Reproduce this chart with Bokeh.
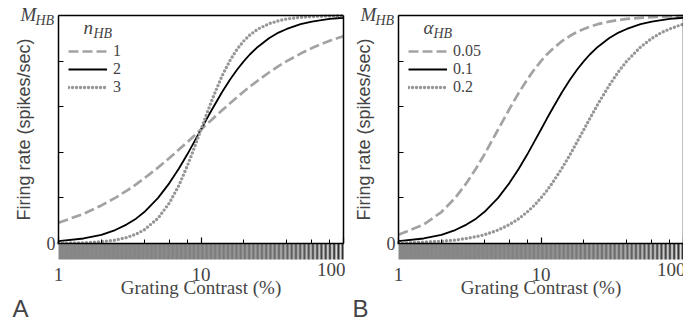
import numpy as np
from bokeh.plotting import figure
from bokeh.layouts import row
from bokeh.models import (Range1d, LinearAxis, LogAxis, FixedTicker, LogTicker,
                          Label, Legend, LegendItem)
from bokeh.embed import file_html
from bokeh.resources import INLINE

# Grating contrast (%) at which the responses are sampled
contrast = [1, 1.5, 2, 2.5, 3, 3.5, 4, 5, 6, 7, 8, 9, 10, 11, 12, 14, 16, 18,
            20, 22, 25, 30, 35, 40, 50, 60, 70, 80, 90, 100]

# Panel A: normalised firing rate for three exponents n_HB
resp_n1 = [0.091, 0.130, 0.167, 0.200, 0.231, 0.259, 0.286, 0.333, 0.375, 0.412,
           0.444, 0.474, 0.500, 0.524, 0.545, 0.583, 0.615, 0.643, 0.667, 0.688,
           0.714, 0.750, 0.778, 0.800, 0.833, 0.857, 0.875, 0.889, 0.900, 0.909]
resp_n2 = [0.010, 0.022, 0.038, 0.059, 0.083, 0.109, 0.138, 0.200, 0.265, 0.329,
           0.390, 0.448, 0.500, 0.548, 0.590, 0.662, 0.719, 0.764, 0.800, 0.829,
           0.862, 0.900, 0.925, 0.941, 0.962, 0.973, 0.980, 0.985, 0.988, 0.990]
resp_n3 = [0.001, 0.003, 0.008, 0.015, 0.026, 0.041, 0.060, 0.111, 0.178, 0.255,
           0.339, 0.422, 0.500, 0.571, 0.633, 0.733, 0.804, 0.854, 0.889, 0.914,
           0.940, 0.964, 0.977, 0.985, 0.992, 0.995, 0.997, 0.998, 0.999, 0.999]

# Panel B: normalised firing rate for three semi-saturation constants alpha_HB
resp_a005 = [0.038, 0.083, 0.138, 0.200, 0.265, 0.329, 0.390, 0.500, 0.590, 0.662,
             0.719, 0.764, 0.800, 0.829, 0.852, 0.887, 0.911, 0.928, 0.941, 0.951,
             0.962, 0.973, 0.980, 0.985, 0.990, 0.993, 0.995, 0.996, 0.997, 0.998]
resp_a01 = [0.010, 0.022, 0.038, 0.059, 0.083, 0.109, 0.138, 0.200, 0.265, 0.329,
            0.390, 0.448, 0.500, 0.548, 0.590, 0.662, 0.719, 0.764, 0.800, 0.829,
            0.862, 0.900, 0.925, 0.941, 0.962, 0.973, 0.980, 0.985, 0.988, 0.990]
resp_a02 = [0.002, 0.006, 0.010, 0.015, 0.022, 0.030, 0.038, 0.059, 0.083, 0.109,
            0.138, 0.168, 0.200, 0.232, 0.265, 0.329, 0.390, 0.448, 0.500, 0.548,
            0.610, 0.692, 0.754, 0.800, 0.862, 0.900, 0.925, 0.941, 0.953, 0.962]

labels_a = ["1", "2", "3"]
labels_b = ["0.05", "0.1", "0.2"]
y_ticks = [0, 0.2, 0.4, 0.6, 0.8, 1.0]
x_tick_labels = {1: "1", 10: "10"}
x_last_label = "100"

GRAY = "#a3a3a3"
STYLES = [
    dict(line_color=GRAY, line_width=2.7, line_dash="10 4"),
    dict(line_color="black", line_width=1.8),
    dict(line_color="#969696", line_width=3.4, line_dash="0 4", line_cap="round"),
]

SERIF = "Liberation Serif"
SANS = "Liberation Sans"

# pixel layout of one panel
H = 323            # canvas height
TOP_PX = 15        # y = 1 (M_HB)
ZERO_PX = 243      # y = 0
DECADES_PX = 285   # contrast 1 .. 100
STRIP_PX = 16      # grating strip height
PX_PER_UNIT = ZERO_PX - TOP_PX
STRIP = STRIP_PX / PX_PER_UNIT


def grating_strip(n_cols):
    """Vertical grating whose luminance contrast grows with the contrast axis."""
    cols = np.arange(n_cols)
    c = 10 ** (2 * (cols + 0.5) / n_cols)
    lum = 136 + 125 * (c / 100) * np.sin(2 * np.pi * cols / 4.25)
    lum = np.clip(lum, 0, 255).astype(np.uint32)
    rgba = (255 << 24) | (lum << 16) | (lum << 8) | lum
    return rgba.reshape(1, n_cols).astype(np.uint32)


def make_panel(series, labels, symbol, letter, width, left_px):
    # the plotting frame fills the whole canvas; axes sit at fixed data locations
    x0 = 10 ** (-2 * left_px / DECADES_PX)
    x1 = 10 ** (2 + 2 * (width - left_px - DECADES_PX) / DECADES_PX)
    y0 = -(H - ZERO_PX) / PX_PER_UNIT
    y1 = 1 + TOP_PX / PX_PER_UNIT

    p = figure(width=width, height=H, x_axis_type="log",
               x_range=Range1d(x0, x1), y_range=Range1d(y0, y1),
               x_axis_location=None, y_axis_location=None,
               min_border=0, output_backend="svg", toolbar_location=None,
               title=None, outline_line_color=None,
               background_fill_color="white", border_fill_color="white")
    p.xgrid.visible = False
    p.ygrid.visible = False

    def sy(py):
        # canvas row (from the top) to screen units measured from the bottom
        return H - py

    def text(x, py, s, size, font=SERIF, style="italic"):
        p.add_layout(Label(x=x, y=sy(py), x_units="screen", y_units="screen", text=s,
                           text_font=font, text_font_style=style,
                           text_font_size=size, text_baseline="middle"))

    # grating strip under the zero line
    p.image_rgba(image=[grating_strip(DECADES_PX)], x=1, y=-STRIP, dw=99, dh=STRIP)

    # left axis: only 0 labelled, inward ticks
    ya = LinearAxis(fixed_location=1, bounds=(0, 1), ticker=FixedTicker(ticks=y_ticks),
                    major_label_overrides={t: ("0" if t == 0 else "") for t in y_ticks},
                    major_tick_in=5, major_tick_out=0, minor_tick_line_color=None,
                    axis_line_width=1.5, major_tick_line_width=1.2,
                    major_label_text_font=SERIF, major_label_text_font_size="18px",
                    major_label_standoff=3,
                    axis_label="Firing rate (spikes/sec)", axis_label_text_font=SANS,
                    axis_label_text_font_style="normal", axis_label_text_font_size="18px",
                    axis_label_standoff=10)
    p.add_layout(ya, "left")

    # right border
    ra = LinearAxis(fixed_location=100, bounds=(0, 1), axis_line_width=1.5,
                    major_tick_line_color=None, minor_tick_line_color=None,
                    major_label_text_color=None)
    p.add_layout(ra, "right")

    # top border
    ta = LogAxis(fixed_location=1, bounds=(1, 100), axis_line_width=1.5,
                 major_tick_line_color=None, minor_tick_line_color=None,
                 major_label_text_color=None)
    p.add_layout(ta, "above")

    # zero line with inward log ticks
    za = LogAxis(fixed_location=0, bounds=(1, 100), ticker=LogTicker(),
                 major_tick_in=6, major_tick_out=0,
                 minor_tick_in=4, minor_tick_out=0,
                 axis_line_width=1.5, major_tick_line_width=1.2,
                 minor_tick_line_width=1.0, major_label_text_color=None)
    p.add_layout(za, "below")

    # contrast labels and title under the grating
    xa = LogAxis(fixed_location=-STRIP, bounds=(1, 100), ticker=FixedTicker(ticks=[1, 10]),
                 major_label_overrides=x_tick_labels, axis_line_color=None,
                 major_tick_line_color=None, minor_tick_line_color=None,
                 major_label_text_font=SERIF, major_label_text_font_size="19px",
                 major_label_standoff=2,
                 axis_label="Grating Contrast (%)", axis_label_text_font=SERIF,
                 axis_label_text_font_style="normal", axis_label_text_font_size="19px",
                 axis_label_standoff=-7)
    p.add_layout(xa, "below")

    # last contrast label, right-aligned so that it stays beside the border
    p.add_layout(Label(x=100, y=sy(262), x_units="data", y_units="screen", x_offset=2,
                       text=x_last_label, text_font=SERIF, text_font_size="19px",
                       text_align="right", text_baseline="top"))

    # curves
    items = []
    for ys, lab, st in zip(series, labels, STYLES):
        r = p.line(contrast, ys, **st)
        items.append(LegendItem(label=lab, renderers=[r]))

    leg = Legend(items=items, location=(left_px + 10, sy(96)), padding=0, margin=0,
                 spacing=0, glyph_width=39, glyph_height=18, label_height=18,
                 label_standoff=6, label_text_font=SERIF,
                 label_text_font_size="16px", label_text_baseline="middle",
                 border_line_color=None, background_fill_alpha=0)
    p.add_layout(leg)

    # legend title with subscript
    text(left_px + 25, 27, symbol, "19px")
    text(left_px + 35, 33, "HB", "14px")

    # maximum response label at the top of the y axis
    text(left_px - 38, 14, "M", "19px")
    text(left_px - 23, 20, "HB", "14px")

    # panel letter
    text(left_px - 46, 308, letter, "24px", font=SANS, style="normal")
    return p


pa = make_panel([resp_n1, resp_n2, resp_n3], labels_a, "n", "A", 345, 58)
pb = make_panel([resp_a005, resp_a01, resp_a02], labels_b, "α", "B", 338, 53)

layout = row(pa, pb)
open("out.html", "w").write(file_html(layout, INLINE))
